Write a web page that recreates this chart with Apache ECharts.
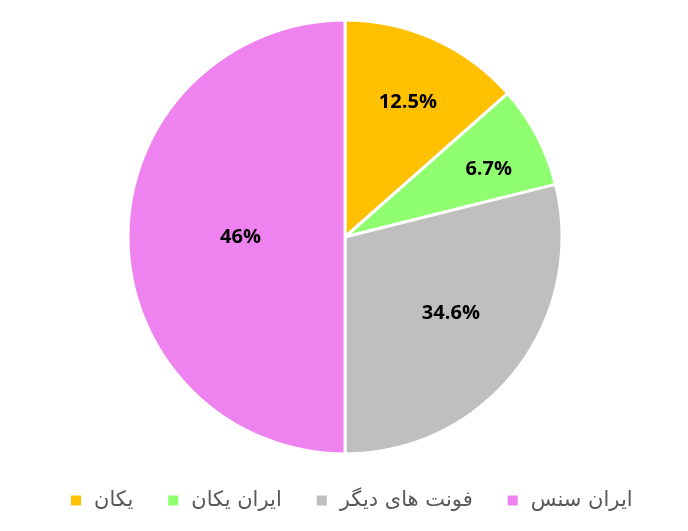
<!DOCTYPE html>
<html>
<head>
<meta charset="utf-8">
<script src="https://cdn.jsdelivr.net/npm/echarts@6/dist/echarts.min.js"></script>
<style>
  html, body { margin: 0; padding: 0; background: #fff; }
  #chart { width: 688px; height: 531px; }
</style>
</head>
<body>
<div id="chart"></div>
<script>
// داده‌ها (اندازه برش‌ها از روی تصویر، برچسب‌ها همان متن نمودار)
const categories = ['یکان', 'ایران یکان', 'فونت های دیگر', 'ایران سنس'];
const values = [13.5, 7.6, 28.9, 50];
const labels = ['12.5%', '6.7%', '34.6%', '46%'];

const colors = ['#FFC000', '#8FFF6F', '#BFBFBF', '#EE82EE'];
const labelOffsets = [[17, -33], [45, -16], [18, 8], [7, 0]]; // جای برچسب‌ها مثل اکسل

const chart = echarts.init(document.getElementById('chart'));

const option = {
  animation: false,
  color: colors,
  legend: {
    data: categories,
    bottom: 15,
    left: 64,
    itemWidth: 12,
    itemHeight: 12,
    itemGap: 33,
    icon: 'rect',
    textStyle: { color: '#595959', fontSize: 21, fontFamily: 'DejaVu Sans', padding: [0, 0, 0, 7] }
  },
  series: [
    {
      type: 'pie',
      center: [345, 237],
      radius: 217,
      startAngle: 90,
      clockwise: true,
      itemStyle: { borderColor: '#fff', borderWidth: 3 },
      label: {
        show: true,
        position: 'inside',
        color: '#000',
        fontSize: 20,
        fontWeight: 'bold',
        fontFamily: 'Open Sans'
      },
      labelLine: { show: false },
      emphasis: { disabled: true },
      data: categories.map((name, i) => ({
        name,
        value: values[i],
        label: { formatter: labels[i], offset: labelOffsets[i] }
      }))
    }
  ]
};

chart.setOption(option);
</script>
</body>
</html>
